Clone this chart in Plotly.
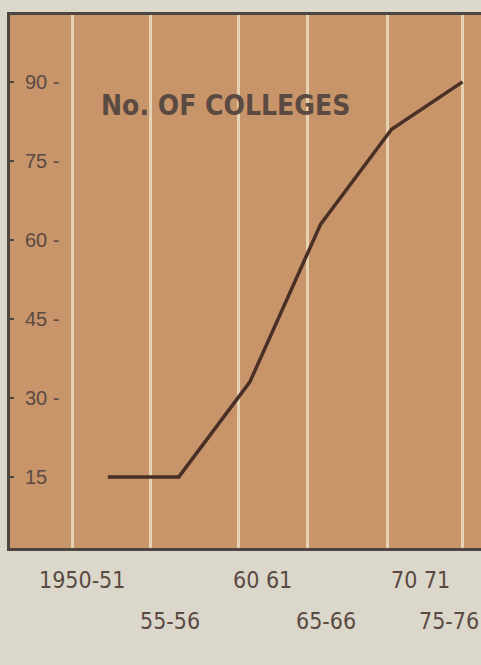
import plotly.graph_objects as go

# Data
years = [1950, 1955, 1960, 1965, 1970, 1975]
year_labels = ["1950-51", "55-56", "60 61", "65-66", "70 71", "75-76"]
colleges = [15, 15, 33, 63, 81, 90]
y_ticks = [15, 30, 45, 60, 75, 90]
y_ticktext = ["15", "30 -", "45 -", "60 -", "75 -", "90 -"]

ink = "#5a4a42"
cond = "DejaVu Sans Condensed, sans-serif"
fig = go.Figure()
fig.add_trace(go.Scatter(x=years, y=colleges, mode="lines",
                         line=dict(color="#4a2f26", width=3.5),
                         showlegend=False, hoverinfo="skip"))

# staggered category labels below the plot
label_shift = [-26, -9, 13, 5, 29, 18]
label_anchor = ["center", "center", "center", "center", "center", "right"]
label_row = [-0.06, -0.137, -0.06, -0.137, -0.06, -0.137]
for yr, lab, dx, ry, xa in zip(years, year_labels, label_shift, label_row, label_anchor):
    fig.add_annotation(x=yr, y=ry, xref="x", yref="paper", text=lab,
                       showarrow=False, xshift=dx, xanchor=xa, yanchor="middle",
                       font=dict(family=cond, size=23, color=ink))

fig.add_annotation(x=1949.4, y=85.6, xref="x", yref="y", xanchor="left",
                   text="<b>No. OF COLLEGES</b>", showarrow=False,
                   font=dict(family=cond, size=28, color=ink))

fig.update_layout(
    width=481, height=665,
    margin=dict(l=10, r=0, t=15, b=117),
    paper_bgcolor="#dbd7cb",
    plot_bgcolor="#c8946a",
    xaxis=dict(range=[1943.1, 1976.3], tickvals=[1947.5, 1953, 1959.2, 1964.1, 1969.7, 1975],
               showticklabels=False, showgrid=True, gridcolor="#e4d2b2", gridwidth=3,
               zeroline=False, showline=True, linecolor="#4d4640", linewidth=3, mirror=True,
               ticks=""),
    yaxis=dict(range=[1.5, 102.7], tickvals=y_ticks, ticktext=y_ticktext,
               ticklabelposition="inside", ticklabelstandoff=12,
               tickfont=dict(family="Liberation Sans", size=20, color=ink),
               ticks="inside", ticklen=4, tickwidth=2, tickcolor="#4d4640",
               showgrid=False, zeroline=False, showline=True, linecolor="#4d4640",
               linewidth=3, mirror=False),
)

fig.write_html("out.html", config={"displayModeBar": False},
               post_script="document.body.style.margin='0';")
